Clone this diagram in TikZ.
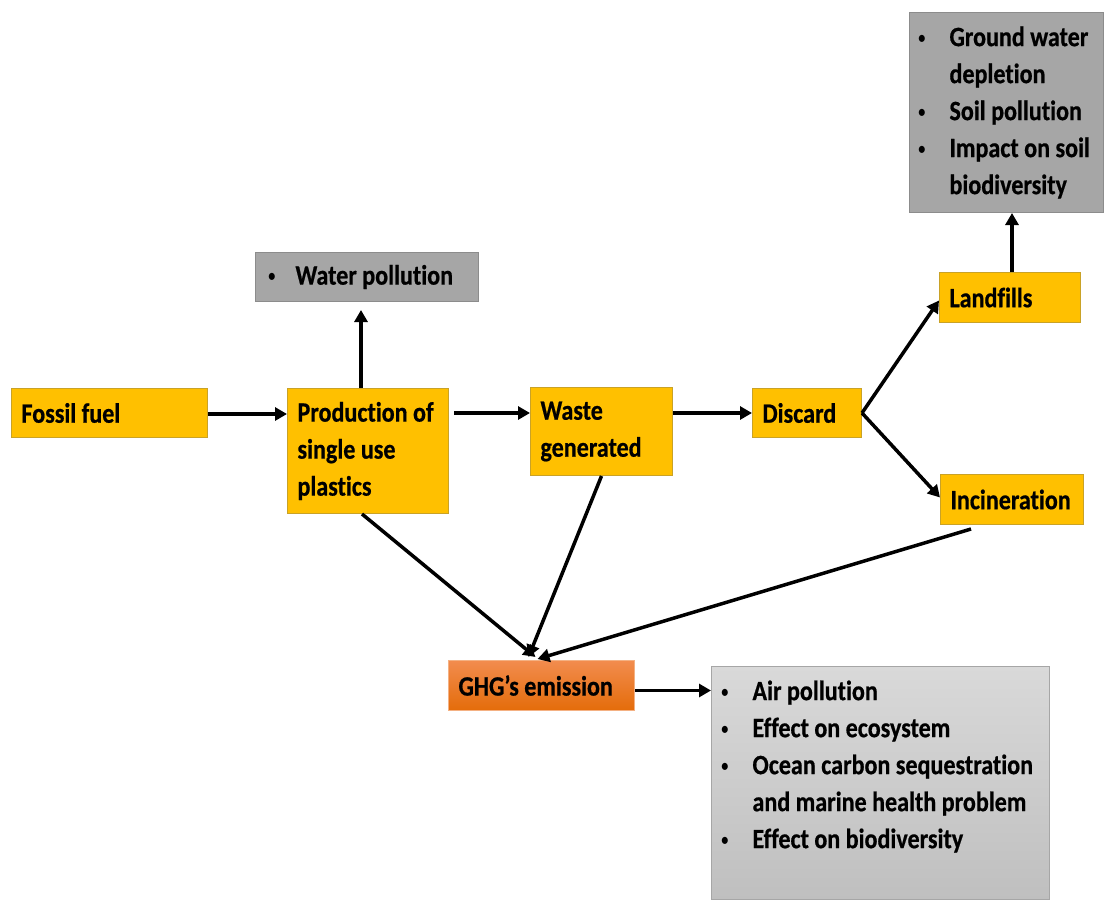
\documentclass[tikz,border=0pt]{standalone}
\usepackage{fontspec}
\setmainfont{Carlito}[FakeStretch=0.86, Ligatures=NoCommon, BoldFeatures={FakeBold=0.6}]
\usetikzlibrary{arrows.meta,calc}
\definecolor{gold}{HTML}{FFC000}
\definecolor{goldedge}{HTML}{C9A227}
\definecolor{grayfill}{HTML}{A6A6A6}
\definecolor{grayedge}{HTML}{8C8C8C}
\definecolor{lgtop}{HTML}{D9D9D9}
\definecolor{lgbot}{HTML}{BFBFBF}
\definecolor{lgedge}{HTML}{A6A6A6}
\definecolor{ortop}{HTML}{F28C4E}
\definecolor{orbot}{HTML}{E46C0A}
\definecolor{oredge}{HTML}{F4B183}
\newcommand{\bul}[1]{\makebox[#1][l]{{\mdseries\fontsize{20}{20}\selectfont\raisebox{2pt}{•}}}}
\begin{document}
\begin{tikzpicture}[x=1pt,y=-1pt,
  txt/.style={font=\fontsize{28}{37}\selectfont\bfseries, align=left, inner ysep=0pt, anchor=north west,
    execute at begin node={\spaceskip=0pt\xspaceskip=0pt\relax}},
  ybox/.style={txt, draw=goldedge, fill=gold, line width=1pt, inner xsep=10pt},
  gbox/.style={txt, draw=grayedge, fill=grayfill, line width=1pt},
  arr/.style={line width=3.5pt, -{Triangle[length=12pt,width=13pt]}}
]
\useasboundingbox (0,0) rectangle (1104,900);

\node[ybox, minimum width=196, minimum height=49, text width=176] (fossil) at (11,388) {Fossil fuel};
\node[ybox, minimum width=161, minimum height=125, text width=141] (prod) at (287,388) {Production of\\single use\\plastics};
\node[ybox, minimum width=142, minimum height=88, text width=122] (waste) at (530,387) {Waste\\generated};
\node[ybox, minimum width=109, minimum height=49, text width=89] (discard) at (752,388) {Discard};
\node[ybox, minimum width=141, minimum height=50, text width=121] (land) at (939,272) {Landfills};
\node[ybox, minimum width=143, minimum height=50, text width=123] (inc) at (940,474) {Incineration};

\node[gbox, inner xsep=12pt, minimum width=223, minimum height=49, text width=199] (water) at (255,252) {\bul{28pt}Water pollution};
\node[gbox, inner xsep=8pt, minimum width=194, minimum height=200, text width=178] (ground) at (909,12)
  {\bul{32pt}\mbox{Ground water}\\\hspace*{32pt}depletion\\\bul{32pt}\mbox{Soil pollution}\\\bul{32pt}\mbox{Impact on soil}\\\hspace*{32pt}biodiversity};

\node[txt, draw=oredge, top color=ortop, bottom color=orbot, line width=1pt, inner xsep=10pt, minimum width=186, minimum height=50, text width=166] (ghg) at (448,660) {GHG’s emission};

\node[txt, draw=lgedge, top color=lgtop, bottom color=lgbot, line width=1pt, inner xsep=9pt, inner ysep=0pt] (effects) at (711,666)
  {\parbox[c][233pt][t]{320pt}{\raggedright\vspace*{14pt}\bul{32pt}Air pollution\\\bul{32pt}Effect on ecosystem\\\bul{32pt}Ocean carbon sequestration\\\hspace*{32pt}and marine health problem\\\bul{32pt}Effect on biodiversity}};

\draw[arr] ([yshift=-1pt]fossil.east) -- ([yshift=-1pt]fossil.east -| prod.west);
\draw[arr] ([xshift=-7pt]prod.north) -- ++(0,-78);
\draw[arr] ([xshift=5pt]prod.east |- fossil.east) -- (fossil.east -| waste.west);
\draw[arr] (discard.west -| waste.east) -- (discard.west);
\draw[arr] (discard.east) -- ([yshift=-3pt]land.west);
\draw[arr] (discard.east) -- ([yshift=2pt]inc.west);
\draw[arr] ([xshift=2pt]land.north) -- ([xshift=2pt]land.north |- ground.south);
\draw[arr] ([xshift=-6pt]prod.south) -- ([xshift=-6pt,yshift=3pt]ghg.north);
\draw[arr] (waste.south) -- ([xshift=-13pt,yshift=3pt]ghg.north);
\draw[arr] ([xshift=-41pt,yshift=-4pt]inc.south) -- ([xshift=-4pt,yshift=1pt]ghg.north);
\draw[arr] ([yshift=-5pt]ghg.east) -- ([yshift=-5pt]ghg.east -| effects.west);
\end{tikzpicture}
\end{document}
